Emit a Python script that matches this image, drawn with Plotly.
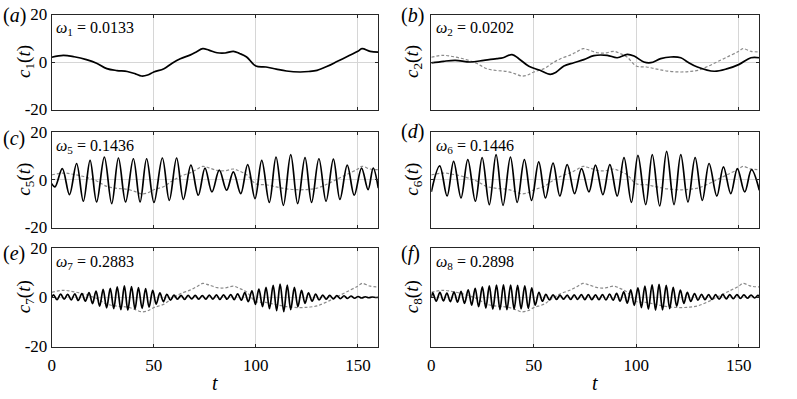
import plotly.graph_objects as go
from plotly.subplots import make_subplots

# c1(t), also drawn dashed grey in panels (b)-(f)
t1 = [0, 5.7, 11, 17, 22, 27, 32, 37, 41, 44, 47, 50, 55, 59, 63, 68, 71, 74, 77, 81,
      85, 89, 92, 95.5, 100, 105, 110, 115, 121.6, 126, 130, 135, 140, 146, 150, 152, 156, 160]
c1 = [2.0, 2.8, 2.2, 1.0, -0.5, -2.8, -3.6, -4.0, -5.0, -5.9, -5.5, -4.2, -2.8, -0.5, 1.4, 3.0,
      4.3, 5.6, 5.0, 3.9, 3.8, 4.5, 3.6, 2.1, -1.7, -2.1, -3.0, -3.8, -4.2, -4.0, -3.5, -1.8,
      0.3, 2.8, 4.5, 5.6, 4.5, 4.2]

t2 = [0, 6, 11.7, 19, 25.6, 32, 35, 39.4, 42.7, 47.6, 53, 58, 61, 64.7, 69.5, 74.4, 79.3,
      85.8, 90.7, 95.6, 98.9, 103.7, 107, 111.9, 116.8, 121.7, 125, 129.8, 138, 144.5, 150.2,
      155.9, 160]
c2 = [-0.4, 0.3, 0.7, 0.0, 0.7, 1.4, 1.8, 3.1, 1.4, -1.8, -3.5, -5.2, -4.2, -1.7, -0.3, 1.0,
      2.7, 2.8, 1.8, 3.2, 2.5, 0.0, -0.3, 1.4, 2.1, 1.8, 0.0, -2.1, -3.9, -2.8, -1.0, 1.8, 1.8]

# extrema (drawn with spline lines)
t5 = [0, 1.6, 5.2, 8.7, 12.2, 15.5, 18.8, 22.0, 25.8, 29.4, 32.7, 36.2, 40.0, 43.3, 46.5,
      50.1, 54.2, 57.6, 61.2, 64.5, 68.2, 71.8, 75.1, 78.5, 82.1, 85.7, 89.0, 92.6, 96.0,
      99.6, 102.9, 106.6, 109.9, 113.5, 117.1, 120.5, 124.1, 127.3, 130.9, 134.4, 138.0,
      141.2, 144.8, 148.2, 151.8, 155.0, 157.5, 160]
c5 = [-1.6, -3.0, 4.7, -6.2, 6.8, -9.0, 8.1, -9.3, 9.5, -10.0, 9.1, -9.3, 8.8, -9.3, 8.8,
      -9.5, 9.1, -8.6, 9.1, -8.2, 6.1, -6.5, 4.9, -5.1, 4.0, -4.4, 3.3, -5.8, 6.3, -7.9,
      8.1, -9.5, 9.5, -10.7, 10.5, -10.0, 9.3, -9.5, 8.8, -9.0, 8.6, -8.2, 6.1, -6.5, 4.9,
      -4.1, 4.9, -3.5]

t6 = [0, 4.1, 7.7, 10.9, 14.5, 17.8, 21.5, 24.8, 28.3, 31.6, 35.0, 38.6, 41.9, 45.4, 48.9,
      52.4, 55.7, 59.4, 62.7, 66.3, 69.9, 73.3, 76.9, 80.1, 83.7, 87.1, 90.7, 94.0, 97.6,
      100.8, 104.6, 107.8, 111.4, 114.8, 118.4, 121.7, 125.2, 128.7, 132.2, 135.5, 139.3,
      142.5, 146.1, 149.3, 152.9, 156.2, 160]
c6 = [-5.1, 5.8, -6.8, 7.7, -7.6, 8.4, -9.0, 9.3, -10.4, 10.5, -10.7, 9.5, -9.5, 8.4, -8.6,
      7.5, -7.6, 7.0, -6.8, 6.3, -5.8, 4.7, -5.1, 6.1, -6.2, 6.3, -6.8, 9.3, -9.5, 10.2,
      -10.4, 10.5, -11.0, 11.9, -10.4, 10.5, -9.3, 9.3, -8.6, 6.8, -6.8, 5.4, -5.8, 4.7,
      -5.1, 4.2, -4.4]

t7 = [0, 0.9, 2.6, 4.4, 6.1, 7.8, 9.6, 11.3, 13.0, 14.8, 16.5, 18.3, 20.0, 21.7, 23.5, 25.2,
      26.9, 28.7, 30.4, 32.1, 33.9, 35.6, 37.3, 39.1, 40.8, 42.5, 44.3, 46.0, 47.7, 49.5,
      51.2, 53.0, 54.7, 56.4, 58.2, 59.9, 61.6, 63.4, 65.1, 66.8, 68.6, 70.3, 72.0, 73.8,
      75.5, 77.2, 79.0, 80.7, 82.4, 84.2, 85.9, 87.7, 89.4, 91.1, 92.9, 94.6, 96.3, 98.1,
      99.8, 101.5, 103.3, 105.0, 106.7, 108.5, 110.2, 111.9, 113.7, 115.4, 117.1, 118.9,
      120.6, 122.4, 124.1, 125.8, 127.6, 129.3, 131.0, 132.8, 134.5, 136.2, 138.0, 139.7,
      141.4, 143.2, 144.9, 146.6, 148.4, 150.1, 151.8, 153.6, 155.3, 157.0, 158.8, 160]
c7 = [0.0,
      1.0, -1.0, 1.3, -0.8, 1.2, -1.1, 1.4, -1.3, 1.5, -1.6,
      1.9, -2.6, 2.5, -3.6, 3.2, -4.3, 3.6, -4.6, 4.2, -5.0,
      4.6, -5.2, 4.3, -4.8, 3.9, -4.5, 3.5, -4.0, 2.8, -2.8,
      1.8, -1.8, 1.2, -1.2, 0.9, -0.8, 0.8, -0.9, 0.8, -0.7,
      0.8, -0.8, 0.7, -0.8, 0.9, -0.8, 1.0, -0.9, 1.0, -0.8,
      1.1, -1.0, 1.4, -1.2, 1.9, -1.8, 2.6, -2.9, 3.3, -3.8,
      4.0, -4.6, 4.8, -5.4, 5.3, -5.8, 4.9, -5.0, 4.0, -3.8,
      2.8, -2.5, 1.8, -1.6, 1.3, -1.1, 0.9, -0.8, 0.8, -0.7,
      0.7, -0.6, 0.6, -0.5, 0.5, -0.4, 0.3, -0.3, 0.2, -0.2,
      0.1, -0.1,
      0.0]

t8 = [0, 0.7, 2.4, 4.2, 5.9, 7.6, 9.3, 11.1, 12.8, 14.5, 16.2, 18.0, 19.7, 21.4, 23.1, 24.9,
      26.6, 28.3, 30.0, 31.8, 33.5, 35.2, 36.9, 38.7, 40.4, 42.1, 43.8, 45.6, 47.3, 49.0,
      50.7, 52.5, 54.2, 55.9, 57.6, 59.4, 61.1, 62.8, 64.5, 66.3, 68.0, 69.7, 71.4, 73.2,
      74.9, 76.6, 78.3, 80.1, 81.8, 83.5, 85.2, 87.0, 88.7, 90.4, 92.1, 93.9, 95.6, 97.3,
      99.0, 100.8, 102.5, 104.2, 105.9, 107.7, 109.4, 111.1, 112.8, 114.6, 116.3, 118.0,
      119.7, 121.5, 123.2, 124.9, 126.6, 128.4, 130.1, 131.8, 133.5, 135.3, 137.0, 138.7,
      140.4, 142.2, 143.9, 145.6, 147.3, 149.1, 150.8, 152.5, 154.2, 156.0, 157.7, 159.4, 160]
c8 = [0.0,
      1.8, -1.6, 2.0, -1.5, 1.7, -1.8, 2.1, -2.0, 2.4, -2.5,
      3.0, -3.2, 3.6, -3.8, 4.2, -4.4, 4.6, -4.8, 4.9, -5.0,
      5.0, -5.0, 4.9, -4.8, 4.8, -4.7, 4.6, -4.5, 3.8, -3.2,
      2.0, -1.6, 1.2, -1.1, 1.0, -0.9, 0.9, -0.8, 0.9, -0.9,
      1.0, -0.9, 1.1, -1.0, 1.1, -1.0, 1.0, -1.0, 1.1, -1.1,
      1.3, -1.2, 1.6, -1.6, 2.2, -2.4, 3.0, -3.3, 3.8, -4.2,
      4.5, -4.8, 5.0, -5.2, 5.2, -5.1, 4.8, -4.6, 4.0, -3.6,
      2.9, -2.5, 2.0, -1.7, 1.5, -1.2, 1.2, -1.0, 1.1, -0.9,
      1.1, -0.8, 1.2, -0.7, 1.1, -0.6, 1.1, -0.5, 1.0, -0.4,
      0.9, -0.3, 0.8,
      0.3]

omegas = ["0.0133", "0.0202", "0.1436", "0.1446", "0.2883", "0.2898"]
modes = [1, 2, 5, 6, 7, 8]
letters = ["a", "b", "c", "d", "e", "f"]
series = [(t1, c1), (t2, c2), (t5, c5), (t6, c6), (t7, c7), (t8, c8)]

x_ticks = [0, 50, 100, 150]
y_ticks = [-20, 0, 20]
y_ticktext = ["-20", "0", "20"]

FONT = "Liberation Serif, Times New Roman, serif"
W, H = 797, 399

col_dom = {1: [51.7 / W, 378.3 / W], 2: [431.3 / W, 759.3 / W]}
row_px = {1: (14.5, 109.5), 2: (132, 227.5), 3: (248, 346.5)}
label_y = {"a": 15, "b": 15, "c": 138, "d": 131, "e": 253, "f": 253}

fig = make_subplots(rows=3, cols=2)
annotations = []

for i in range(6):
    row, col = i // 2 + 1, i % 2 + 1
    t, c = series[i]
    if i > 0:
        fig.add_trace(go.Scatter(x=t1, y=c1, mode="lines", line_shape="spline",
                                 line=dict(color="#8a8a8a", width=1.2, dash="3px,2px"),
                                 showlegend=False, hoverinfo="skip"), row=row, col=col)
    fig.add_trace(go.Scatter(x=t, y=c, mode="lines", line_shape="spline",
                             line=dict(color="black", width=1.7),
                             showlegend=False), row=row, col=col)

    top, bot = row_px[row]
    ydom = [1 - bot / H, 1 - top / H]
    sfx = "" if i == 0 else str(i + 1)
    fig.layout["xaxis" + sfx].update(
        domain=col_dom[col], range=[0, 160], tickvals=x_ticks, automargin=False,
        showticklabels=(row == 3), ticks="inside", ticklen=3, tickcolor="#262626",
        showline=True, linecolor="#262626", linewidth=1, mirror="ticks",
        showgrid=True, gridcolor="#d6d6d6", gridwidth=1, zeroline=False,
        tickfont=dict(family=FONT, size=17, color="black"), ticklabelstandoff=3)
    fig.layout["yaxis" + sfx].update(
        domain=ydom, range=[-20, 20], tickvals=y_ticks, ticktext=y_ticktext,
        automargin=False,
        showticklabels=(col == 1), ticks="inside", ticklen=3, tickcolor="#262626",
        showline=True, linecolor="#262626", linewidth=1, mirror="ticks",
        showgrid=True, gridcolor="#d6d6d6", gridwidth=1, zeroline=False,
        tickfont=dict(family=FONT, size=17, color="black"))

    xd = "x" + sfx
    annotations.append(dict(
        text="<i>ω</i><sub>%d</sub> = %s" % (modes[i], omegas[i]),
        xref=xd + " domain", yref="y" + sfx + " domain", x=0.008, y=0.97,
        xanchor="left", yanchor="top", showarrow=False,
        font=dict(family=FONT, size=16, color="black")))
    annotations.append(dict(
        text="(<i>%s</i>)" % letters[i], xref="paper", yref="paper",
        x=(1 if col == 1 else 399) / W, y=1 - label_y[letters[i]] / H,
        xanchor="left", yanchor="middle", showarrow=False,
        font=dict(family=FONT, size=20, color="black")))
    annotations.append(dict(
        text="<i>c</i><sub>%d</sub>(<i>t</i>)" % modes[i], xref="paper", yref="paper",
        x=(25 if col == 1 else 413) / W, y=(ydom[0] + ydom[1]) / 2, textangle=-90,
        xanchor="center", yanchor="middle", showarrow=False,
        font=dict(family=FONT, size=19, color="black")))
    if row == 3:
        annotations.append(dict(
            text="<i>t</i>", xref="paper", yref="paper",
            x=sum(col_dom[col]) / 2, y=1 - 383 / H,
            xanchor="center", yanchor="middle", showarrow=False,
            font=dict(family=FONT, size=20, color="black")))

fig.update_layout(template="none", width=W, height=H, margin=dict(l=0, r=0, t=0, b=0),
                  plot_bgcolor="white", paper_bgcolor="white",
                  font=dict(family=FONT, color="black"),
                  annotations=annotations)

fig.write_html("out.html", config={"displayModeBar": False},
               post_script="document.body.style.margin='0';")
